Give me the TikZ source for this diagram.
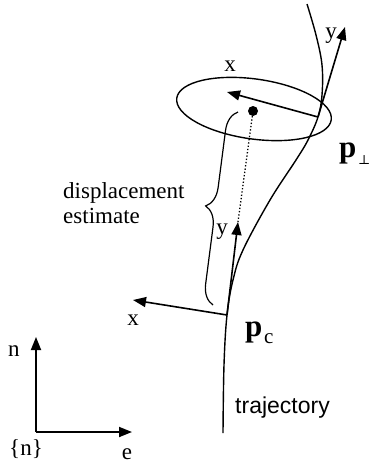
\documentclass[tikz,border=0pt]{standalone}
\usepackage{fontspec}
\setmainfont{Liberation Serif}
\newfontfamily\sansfam{Liberation Sans}
\newfontfamily\symfam{DejaVu Serif}
\usetikzlibrary{positioning,arrows.meta,decorations.pathreplacing}

\tikzset{
  arr/.style={line width=1.6pt,-{Triangle[length=13pt,width=10pt]}},
  lbl/.style={inner sep=0pt,font=\fontsize{23}{25}\selectfont},
  bigp/.style={inner sep=0pt,anchor=base west,font=\fontsize{31}{31}\selectfont\bfseries},
}

\begin{document}
\begin{tikzpicture}[x=1pt,y=-1pt]
\useasboundingbox (0,0) rectangle (372,463);
% points on the trajectory
\coordinate (pperp) at (318,117);
\coordinate (pc) at (227,315);
\coordinate (el) at (254,109);
% trajectory
\draw[line width=1.4pt] plot[smooth,tension=0.6] coordinates {(307,4) (316,35) (322,65) (322,95) (pperp) (308,140) (296,160) (270,200) (243,250) (233,280) (pc) (224,365) (223,433)};
% uncertainty ellipse
\draw[line width=1.4pt,rotate around={-8:(el)}] (el) ellipse [x radius=78,y radius=30];
\node[circle,fill,inner sep=0pt,minimum size=10pt] (dot) at (253,111) {};
% frame at p_perp
\coordinate (ppx) at (227,92);
\coordinate (ppy) at (345,27);
\draw[arr] (pperp) -- (ppx);
\draw[arr] (pperp) -- (ppy);
\node[lbl] (lppx) at (230,66) {x};
\node[lbl] (lppy) at (331,36) {y};
% frame at p_c
\coordinate (pcx) at (133,300);
\coordinate (pcy) at (238,222);
\draw[arr] (pc) -- (pcx);
\draw[arr] (pc) -- (pcy);
\node[lbl] (lpcx) at (133,320) {x};
\node[lbl] (lpcy) at (222,232) {y};
\draw[dotted,line width=1.3pt] (dot) -- (pcy);
% brace
\coordinate (brb) at (213,305);
\coordinate (brt) at (238,112);
\draw[line width=1.2pt,decorate,decoration={brace,amplitude=20pt}] (brb) -- (brt);
\node[lbl,anchor=base west] (disp) at (63,198) {displacement};
\node[lbl,anchor=base west] (est) at (63,223) {estimate};
% point labels
\node[bigp] (lpperp) at (339,157) {p};
\node[inner sep=0pt,anchor=base west,font=\symfam\fontsize{13}{13}\selectfont] (sperp) at (358,164) {⊥};
\node[bigp] (lpc) at (245,336) {p};
\node[lbl,anchor=base west,font=\fontsize{21}{21}\selectfont] (sc) at (264,343) {c};
\node[inner sep=0pt,anchor=base west,font=\sansfam\fontsize{23}{25}\selectfont] (traj) at (235,413) {trajectory};
% navigation frame
\coordinate (o) at (36,432);
\coordinate (nn) at (36,337);
\coordinate (ne) at (132,432);
\draw[arr,line width=1.8pt] (o) -- (nn);
\draw[arr,line width=1.8pt] (o) -- (ne);
\node[lbl] (ln) at (14,351) {n};
\node[lbl] (le) at (127,454) {e};
\node[lbl] (lnf) at (26,449) {\{n\}};
\end{tikzpicture}
\end{document}
